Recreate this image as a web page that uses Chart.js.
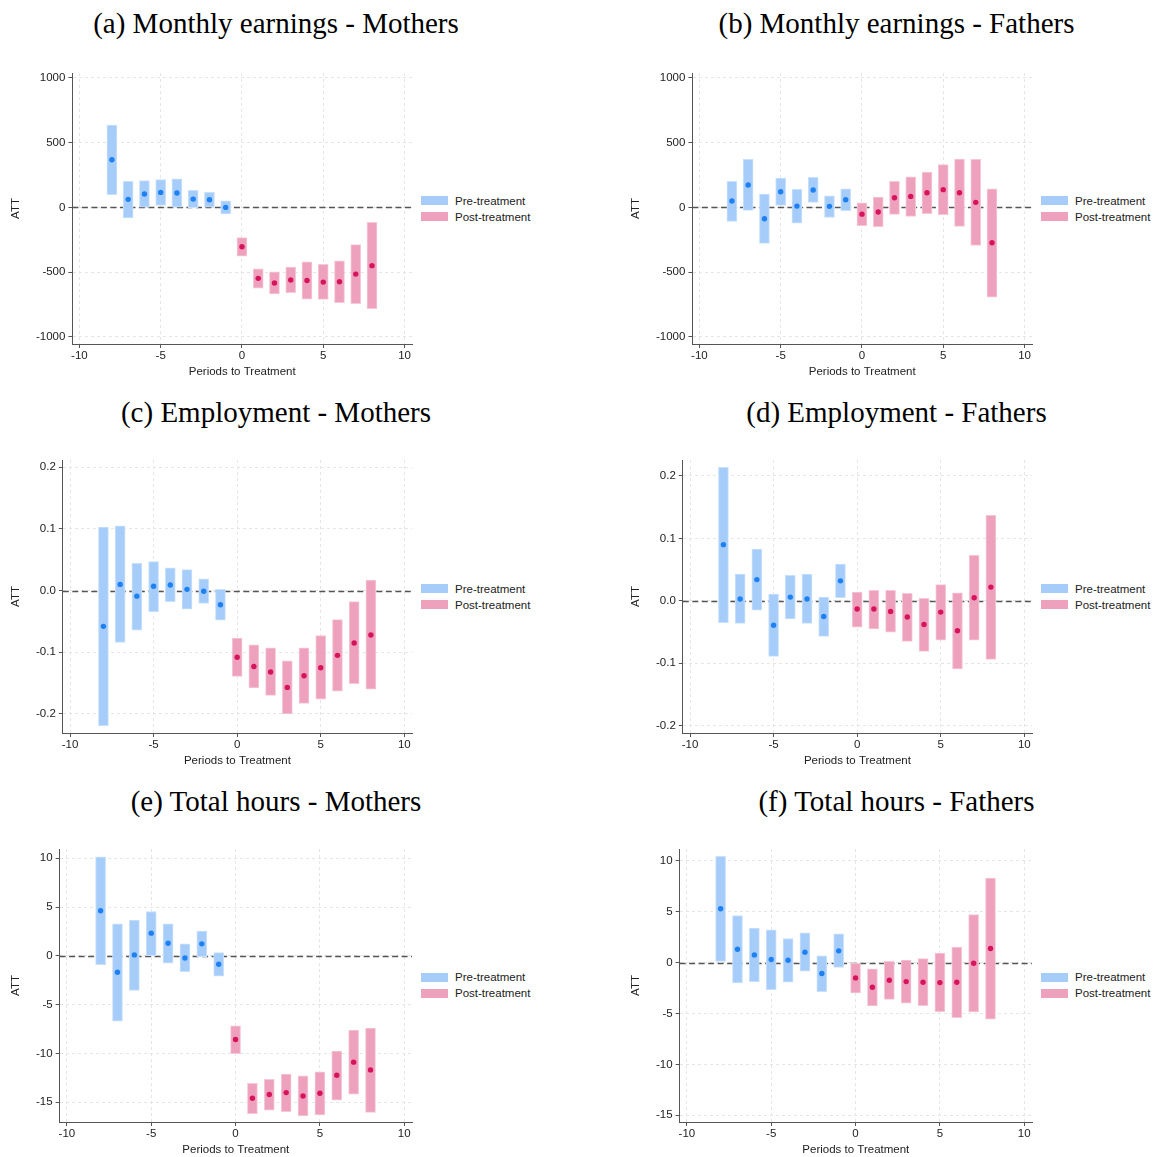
<!DOCTYPE html>
<html><head><meta charset="utf-8">
<script src="https://cdn.jsdelivr.net/npm/chart.js@4.4.1/dist/chart.umd.min.js"></script>
<style>
html,body{margin:0;padding:0;overflow:hidden;background:#fff}
body{width:1157px;height:1157px;position:relative}
.t{position:absolute;width:560px;text-align:center;font-family:"Liberation Serif","Times New Roman",serif;font-size:29px;line-height:29px;color:#000;white-space:nowrap}
.cv{position:absolute}
.lg{position:absolute;font-family:"Liberation Sans",Arial,sans-serif;font-size:11.5px;color:#222}
.lg .it{height:16px;display:flex;align-items:center;white-space:nowrap}
.lg .b{display:inline-block;width:27px;height:9px;margin-right:7px}
</style></head><body>
<script>
// ---------- data ----------
const periods = [-8,-7,-6,-5,-4,-3,-2,-1,0,1,2,3,4,5,6,7,8];
const xTicks = [-10,-5,0,5,10];
const earnTicks = [-1000,-500,0,500,1000];
const empTicks = [-0.2,-0.1,0,0.1,0.2];
const hoursTicks = [-15,-10,-5,0,5,10];

const earnMothersEst = [368,62,103,116,111,64,59,0,-304,-548,-584,-561,-564,-577,-574,-515,-450];
const earnMothersLo  = [98,-82,2,15,1,-3,2,-51,-376,-623,-669,-659,-708,-710,-736,-744,-782];
const earnMothersHi  = [636,201,208,214,221,131,116,51,-234,-474,-497,-461,-420,-440,-412,-288,-116];

const earnFathersEst = [49,173,-88,121,10,134,8,59,-52,-36,75,85,113,137,113,39,-273];
const earnFathersLo  = [-108,-23,-278,15,-121,39,-77,-26,-142,-149,-54,-70,-49,-57,-147,-294,-693];
const earnFathersHi  = [201,371,103,227,139,232,90,144,36,80,201,237,273,330,374,371,144];

const empMothersEst = [-0.058,0.010,-0.009,0.007,0.009,0.002,-0.001,-0.023,-0.108,-0.123,-0.132,-0.157,-0.138,-0.125,-0.105,-0.085,-0.072];
const empMothersLo  = [-0.219,-0.084,-0.064,-0.034,-0.018,-0.030,-0.021,-0.048,-0.139,-0.158,-0.170,-0.200,-0.183,-0.176,-0.163,-0.151,-0.160];
const empMothersHi  = [0.103,0.105,0.044,0.047,0.037,0.034,0.019,0.002,-0.077,-0.088,-0.093,-0.114,-0.093,-0.073,-0.047,-0.018,0.017];

const empFathersEst = [0.090,0.003,0.034,-0.039,0.006,0.003,-0.025,0.032,-0.013,-0.013,-0.017,-0.026,-0.038,-0.018,-0.048,0.005,0.022];
const empFathersLo  = [-0.035,-0.036,-0.015,-0.089,-0.029,-0.036,-0.057,0.005,-0.042,-0.045,-0.050,-0.065,-0.081,-0.063,-0.109,-0.063,-0.094];
const empFathersHi  = [0.214,0.043,0.083,0.011,0.041,0.043,0.006,0.059,0.014,0.017,0.017,0.012,0.004,0.026,0.013,0.073,0.137];

const hoursMothersEst = [4.62,-1.68,0.10,2.33,1.30,-0.21,1.23,-0.86,-8.56,-14.59,-14.21,-14.01,-14.35,-14.08,-12.23,-10.89,-11.68];
const hoursMothersLo  = [-0.89,-6.68,-3.53,0.03,-0.75,-1.61,-0.07,-2.09,-10.03,-16.16,-15.82,-15.96,-16.40,-16.30,-14.79,-14.18,-16.03];
const hoursMothersHi  = [10.14,3.29,3.66,4.55,3.29,1.23,2.53,0.34,-7.16,-13.05,-12.64,-12.12,-12.29,-11.88,-9.76,-7.60,-7.40];

const hoursFathersEst = [5.28,1.31,0.75,0.30,0.23,1.02,-1.08,1.15,-1.51,-2.43,-1.74,-1.87,-1.93,-1.97,-1.93,-0.07,1.38];
const hoursFathersLo  = [0.10,-2.00,-1.87,-2.66,-1.93,-0.85,-2.85,-0.49,-2.98,-4.26,-3.61,-4.00,-4.23,-4.82,-5.41,-4.85,-5.57];
const hoursFathersHi  = [10.43,4.62,3.38,3.21,2.36,2.92,0.66,2.82,0.00,-0.62,0.13,0.23,0.39,0.92,1.51,4.72,8.30];

const titles = ["(a) Monthly earnings - Mothers","(b) Monthly earnings - Fathers","(c) Employment - Mothers","(d) Employment - Fathers","(e) Total hours - Mothers","(f) Total hours - Fathers"];
const legendLabels = ["Pre-treatment","Post-treatment"];
const xTitle = "Periods to Treatment";
const yTitle = "ATT";

// ---------- styling / layout ----------
const SANS = '"Liberation Sans", Arial, sans-serif';
const preFill = '#a6cdfa', preEdge = '#c9e1fc', prePt = '#1f80f2';
const postFill = '#eea1bd', postEdge = '#f6c8d8', postPt = '#d6145c';
const rows = [{top:63,h:320,center:208.8,tb:33.5},{top:450,h:322,center:596.7,tb:422.5},{top:839,h:322,center:985.4,tb:811.5}];
const cols = [{left:0,tc:276},{left:620,tc:896.5}];

const panels = [
  {est:earnMothersEst, lo:earnMothersLo, hi:earnMothersHi, ticks:earnTicks, ymin:-1055, ymax:1038, dec:0},
  {est:earnFathersEst, lo:earnFathersLo, hi:earnFathersHi, ticks:earnTicks, ymin:-1055, ymax:1038, dec:0},
  {est:empMothersEst, lo:empMothersLo, hi:empMothersHi, ticks:empTicks, ymin:-0.2309, ymax:0.2117, dec:1},
  {est:empFathersEst, lo:empFathersLo, hi:empFathersHi, ticks:empTicks, ymin:-0.2117, ymax:0.2256, dec:1},
  {est:hoursMothersEst, lo:hoursMothersLo, hi:hoursMothersHi, ticks:hoursTicks, ymin:-17.02, ymax:10.95, dec:0},
  {est:hoursFathersEst, lo:hoursFathersLo, hi:hoursFathersHi, ticks:hoursTicks, ymin:-15.66, ymax:11.15, dec:0}
];

const zeroLine = {
  id:'zeroLine',
  beforeDatasetsDraw(chart){
    const {ctx, chartArea:a, scales:{y}} = chart;
    const py = Math.round(y.getPixelForValue(0)) + 0.5;
    ctx.save();
    ctx.strokeStyle = '#555';
    ctx.lineWidth = 1.3;
    ctx.setLineDash([6,3.5]);
    ctx.beginPath(); ctx.moveTo(a.left, py); ctx.lineTo(a.right, py); ctx.stroke();
    ctx.restore();
  }
};

panels.forEach((p, i) => {
  const r = rows[Math.floor(i/2)], c = cols[i%2];
  // title
  const t = document.createElement('div');
  t.className = 't'; t.textContent = titles[i];
  t.style.left = (c.tc - 280) + 'px'; t.style.top = (r.tb - 24.3) + 'px';
  document.body.appendChild(t);
  // legend
  const lg = document.createElement('div');
  lg.className = 'lg';
  lg.style.left = (c.left + 421) + 'px'; lg.style.top = (r.center - 16) + 'px';
  [[preFill, legendLabels[0]],[postFill, legendLabels[1]]].forEach(([col, txt]) => {
    const it = document.createElement('div'); it.className = 'it';
    const b = document.createElement('span'); b.className = 'b'; b.style.background = col;
    const s = document.createElement('span'); s.textContent = txt;
    it.appendChild(b); it.appendChild(s); lg.appendChild(it);
  });
  document.body.appendChild(lg);
  // canvas
  const cv = document.createElement('canvas');
  cv.className = 'cv'; cv.width = 420; cv.height = r.h;
  cv.style.left = c.left + 'px'; cv.style.top = r.top + 'px';
  cv.style.width = '420px'; cv.style.height = r.h + 'px';
  document.body.appendChild(cv);

  const preBars = [], postBars = [], prePts = [], postPts = [];
  periods.forEach((x, k) => {
    const bar = {x:x, y:[p.lo[k], p.hi[k]]};
    const pt = {x:x, y:p.est[k]};
    if (x < 0) { preBars.push(bar); prePts.push(pt); } else { postBars.push(bar); postPts.push(pt); }
  });
  const fontT = {family:SANS, size:11.5};
  new Chart(cv, {
    type:'bar',
    data:{datasets:[
      {type:'scatter', data:prePts, pointRadius:2.7, pointBackgroundColor:prePt, pointBorderWidth:0, order:0},
      {type:'scatter', data:postPts, pointRadius:2.7, pointBackgroundColor:postPt, pointBorderWidth:0, order:0},
      {type:'bar', label:legendLabels[0], data:preBars, backgroundColor:preFill, borderColor:preEdge, borderWidth:1, borderSkipped:false, barThickness:10, grouped:false, order:1},
      {type:'bar', label:legendLabels[1], data:postBars, backgroundColor:postFill, borderColor:postEdge, borderWidth:1, borderSkipped:false, barThickness:10, grouped:false, order:1}
    ]},
    options:{
      responsive:false, animation:false, devicePixelRatio:1, events:[],
      layout:{padding:{left:0, right:8, top:10, bottom:2}},
      plugins:{legend:{display:false}, tooltip:{enabled:false}},
      scales:{
        x:{type:'linear', min:-10.43, max:10.46, offset:false,
          afterBuildTicks:s => { s.ticks = xTicks.map(v => ({value:v})); },
          afterFit:s => { s.height = 37; },
          ticks:{font:fontT, color:'#222', padding:1, maxRotation:0, autoSkip:false, callback:v => String(v)},
          grid:{color:'#e6e6e6', lineWidth:1, tickLength:4, tickColor:'#555', offset:false},
          border:{color:'#555', width:1, dash:[3,3]},
          title:{display:true, text:xTitle, font:fontT, color:'#222', padding:{top:2.3, bottom:2.1}}
        },
        y:{type:'linear', min:p.ymin, max:p.ymax,
          afterBuildTicks:s => { s.ticks = p.ticks.map(v => ({value:v})); },
          ticks:{font:fontT, color:'#222', padding:3, autoSkip:false, callback:v => p.dec ? Number(v).toFixed(p.dec) : String(Math.round(v))},
          grid:{color:'#e6e6e6', lineWidth:1, tickLength:4, tickColor:'#555'},
          border:{color:'#555', width:1, dash:[3,3]},
          title:{display:true, text:yTitle, font:fontT, color:'#222', padding:{top:9.1, bottom:10.1}}
        }
      }
    },
    plugins:[zeroLine]
  });
});
</script>
</body></html>
